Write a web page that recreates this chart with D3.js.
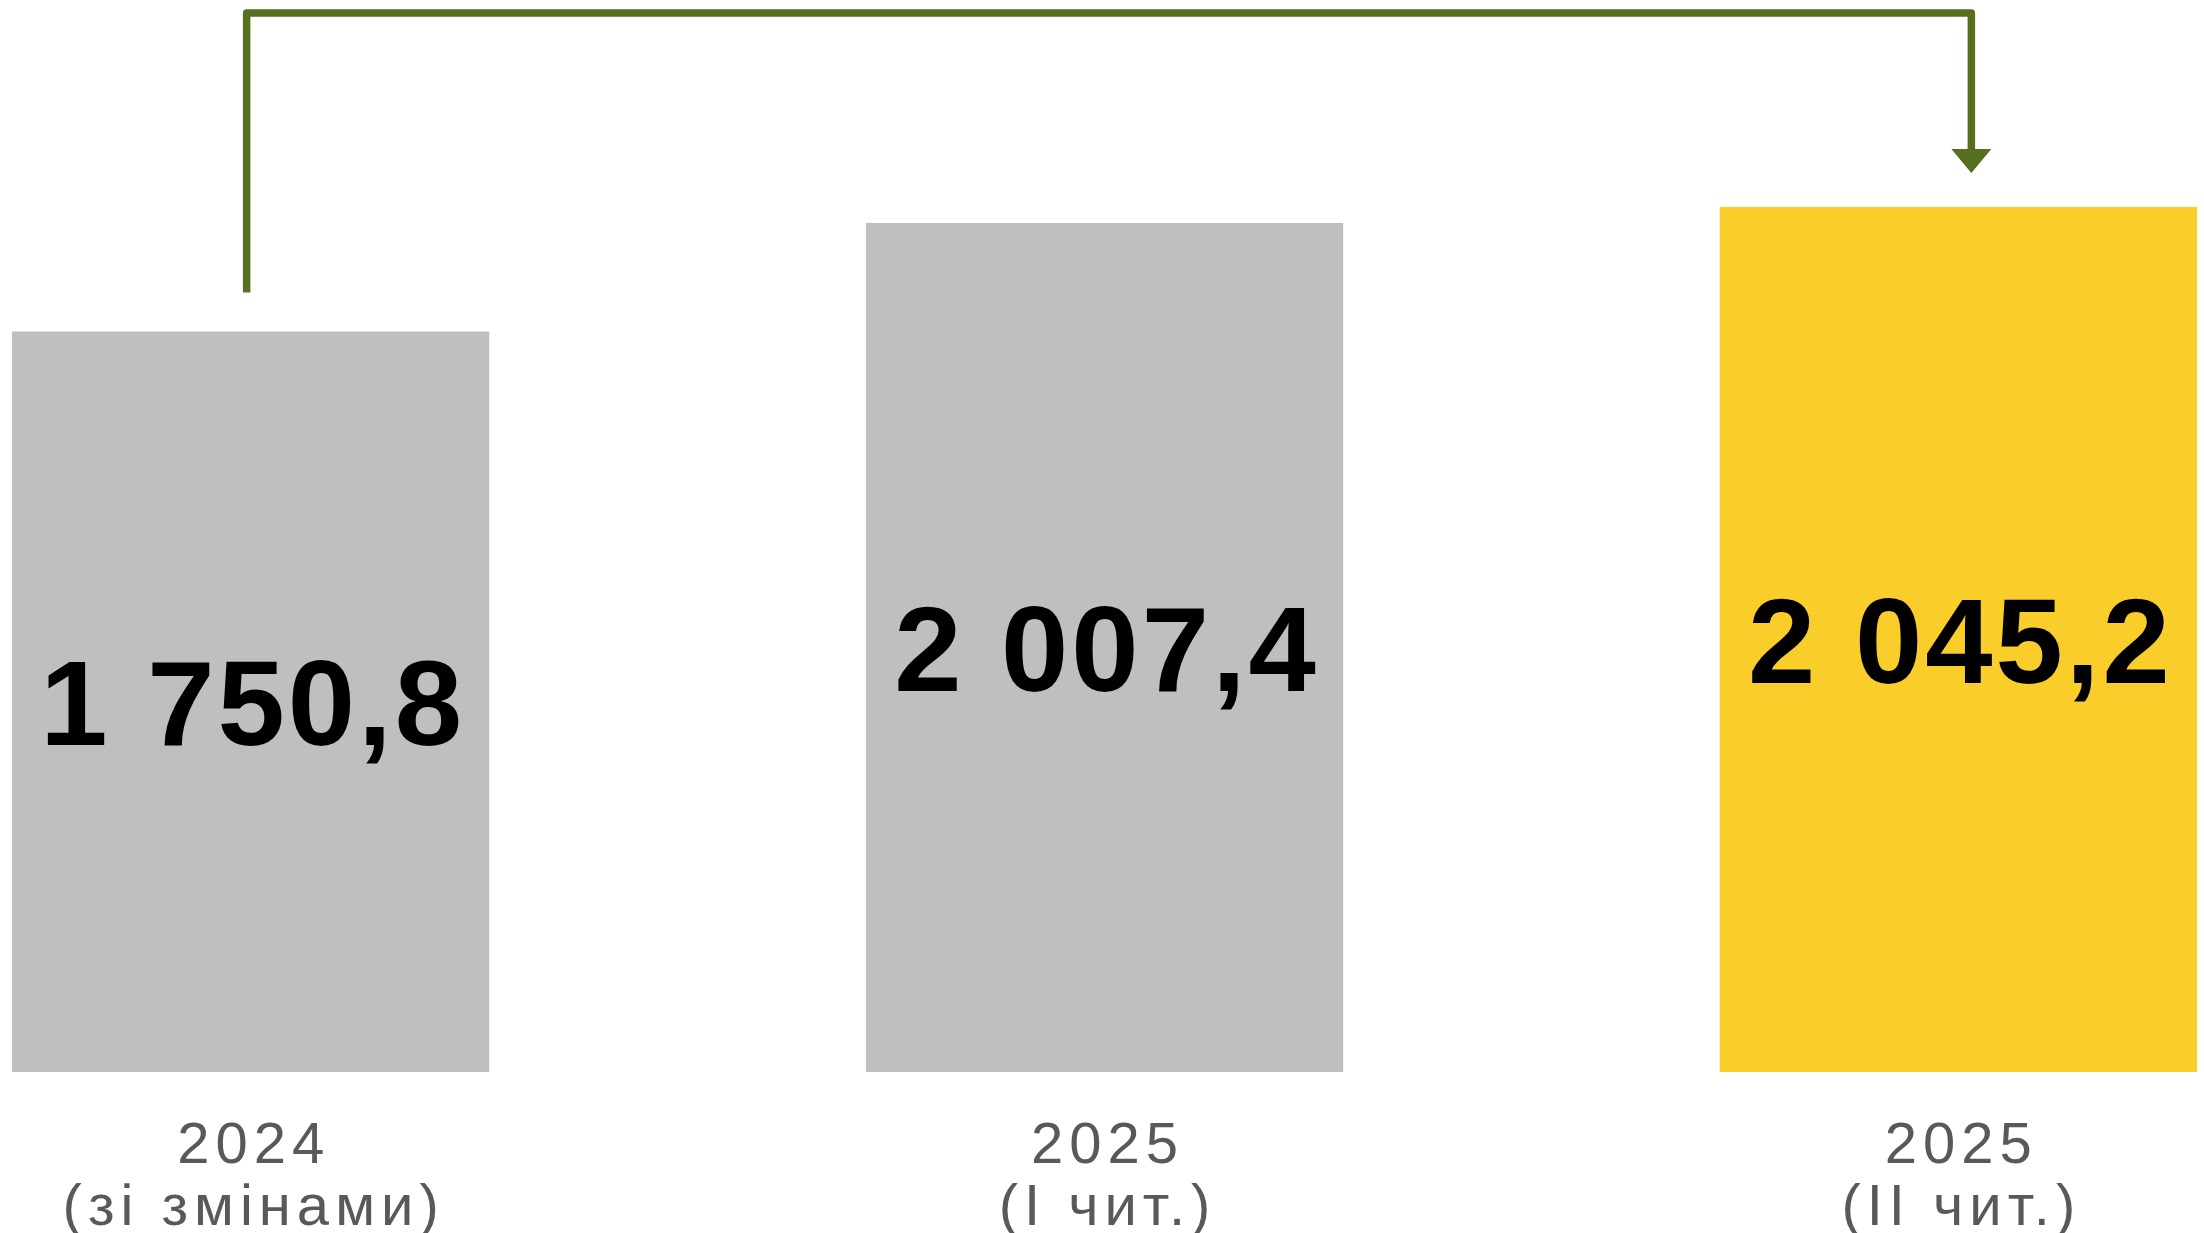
<!DOCTYPE html>
<html>
<head>
<meta charset="utf-8">
<script src="https://cdn.jsdelivr.net/npm/d3@7"></script>
<style>
  html, body { margin: 0; padding: 0; background: #ffffff; }
  svg { display: block; }
  .value-label { font-family: "Liberation Sans", Arial, sans-serif; font-weight: 700; fill: #000000; }
  .cat-label { font-family: "Liberation Sans", Arial, sans-serif; font-weight: 400; fill: #595959; }
</style>
</head>
<body>
<svg id="chart"></svg>
<script>
const width = 2204;
const height = 1233;

// data
const categories = ["2024 (зі змінами)", "2025 (I чит.)", "2025 (II чит.)"];
const labelLine1 = ["2024", "2025", "2025"];
const labelLine2 = ["(зі змінами)", "(I чит.)", "(II чит.)"];
const values = [1750.8, 2007.4, 2045.2];
const valueText = ["1 750,8", "2 007,4", "2 045,2"];
const barColors = ["#bfbfbf", "#bfbfbf", "#f9cd2a"];

const margin = { top: 207, bottom: 161, left: 12, right: 7 };

const svg = d3.select("svg#chart")
  .attr("width", width)
  .attr("height", height);

/* SCALES */

const xScale = d3.scaleBand()
  .domain(categories)
  .range([margin.left, width - margin.right])
  .paddingInner(0.441)
  .paddingOuter(0);

const yScale = d3.scaleLinear()
  .domain([0, d3.max(values)])
  .range([height - margin.bottom, margin.top]);

const bw = xScale.bandwidth();

/* BARS */

const bars = svg.append("g").attr("id", "bars");

bars.selectAll("rect")
  .data(values)
  .enter()
  .append("rect")
    .attr("x", (d, i) => xScale(categories[i]))
    .attr("y", d => yScale(d))
    .attr("width", bw)
    .attr("height", d => yScale(0) - yScale(d))
    .style("fill", (d, i) => barColors[i]);

/* VALUE LABELS (centred in each bar) */

const valueSize = 121;
const capH = valueSize * 0.716;

svg.append("g").attr("id", "values")
  .selectAll("text")
  .data(values)
  .enter()
  .append("text")
    .attr("class", "value-label")
    .attr("x", (d, i) => xScale(categories[i]) + bw / 2 + 2)
    .attr("y", d => (yScale(d) + yScale(0)) / 2 + capH / 2)
    .attr("text-anchor", "middle")
    .style("font-size", valueSize + "px")
    .style("letter-spacing", "3px")
    .text((d, i) => valueText[i]);

/* CATEGORY LABELS */

const catSize = 58;
const catGroup = svg.append("g").attr("id", "categories");

categories.forEach(function(c, i) {
  const t = catGroup.append("text")
    .attr("class", "cat-label")
    .attr("text-anchor", "middle")
    .style("font-size", catSize + "px")
    .style("letter-spacing", "6px");
  const cx = xScale(c) + bw / 2 + 3;
  t.append("tspan")
    .attr("x", cx)
    .attr("y", yScale(0) + 91)
    .text(labelLine1[i]);
  t.append("tspan")
    .attr("x", cx)
    .attr("y", yScale(0) + 153)
    .text(labelLine2[i]);
});

/* CONNECTOR ARROW from first to last bar */

const green = "#56701f";
const startX = xScale(categories[0]) + bw / 2 - 4;
const endX = xScale(categories[2]) + bw / 2 + 13;
const startY = yScale(values[0]) - 39;
const topY = 13;
const tipY = yScale(values[2]) - 34;
const headH = 24;
const headW = 40;

const link = d3.path();
link.moveTo(startX, startY);
link.lineTo(startX, topY);
link.lineTo(endX, topY);
link.lineTo(endX, tipY - headH + 1);

svg.append("path")
  .attr("d", link.toString())
  .attr("fill", "none")
  .attr("stroke", green)
  .attr("stroke-width", 7.5)
  .attr("stroke-linejoin", "round");

svg.append("path")
  .attr("d", "M" + (endX - headW / 2) + "," + (tipY - headH) +
             "L" + (endX + headW / 2) + "," + (tipY - headH) +
             "L" + endX + "," + tipY + "Z")
  .attr("fill", green);
</script>
</body>
</html>
